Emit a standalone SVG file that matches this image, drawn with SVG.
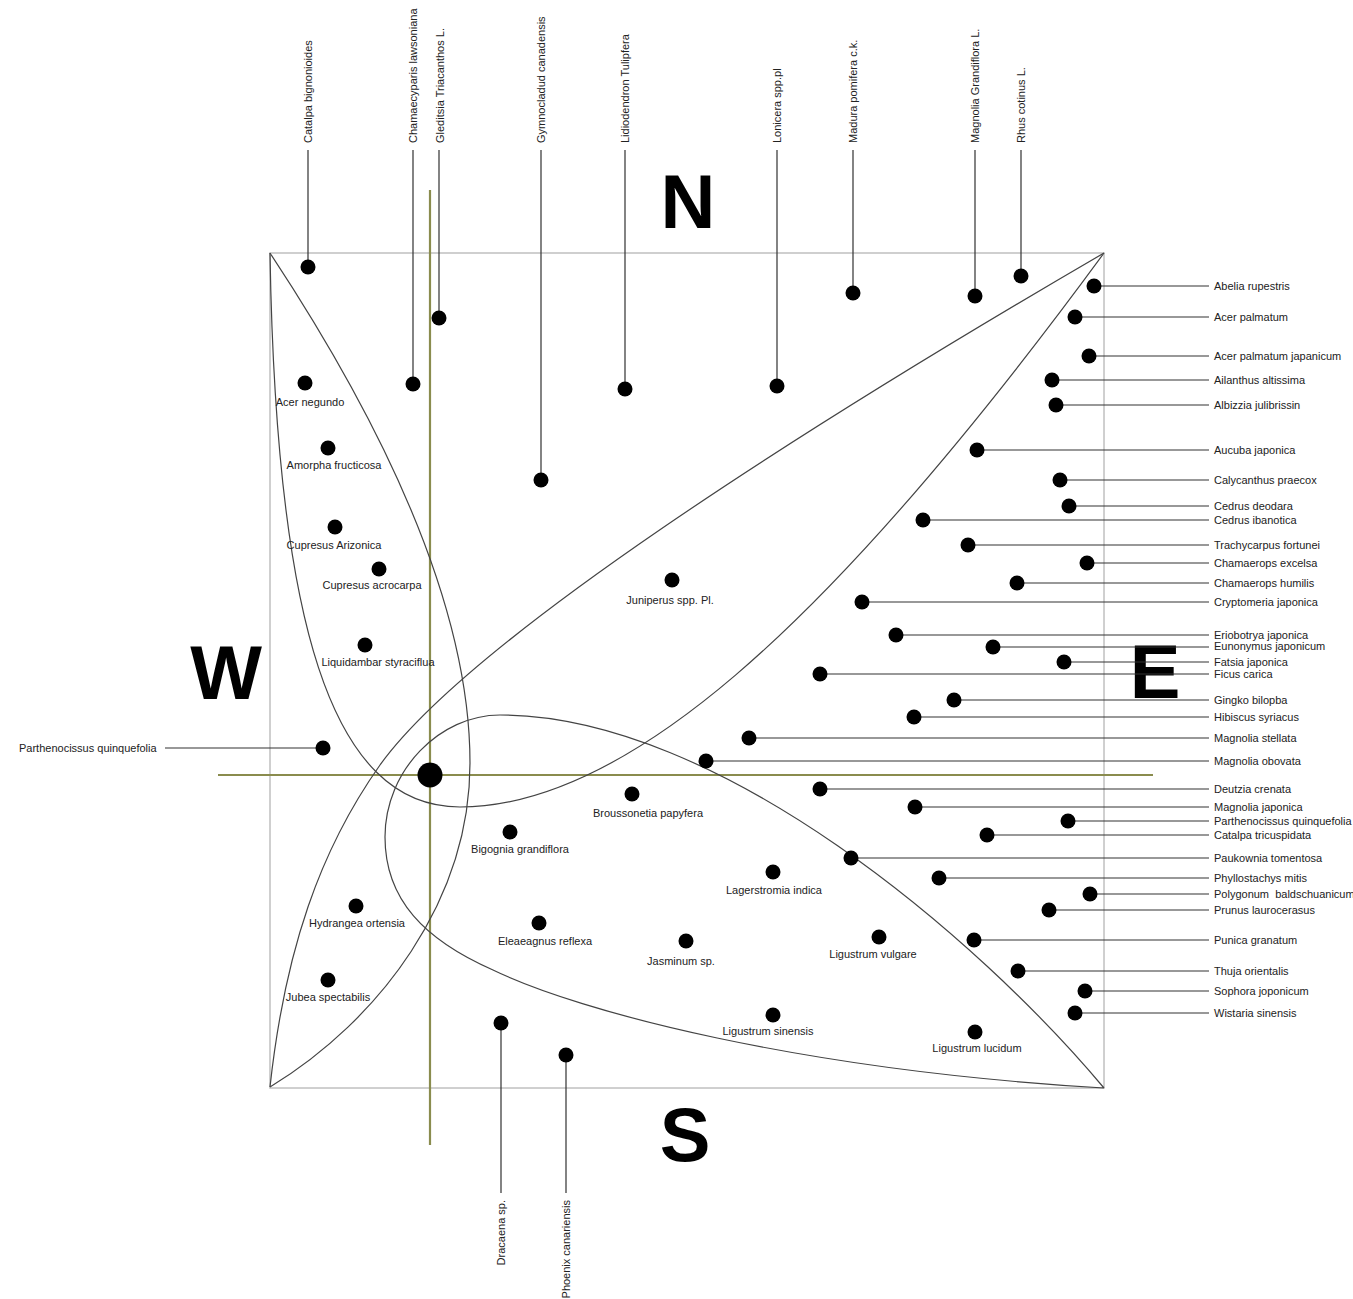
<svg xmlns="http://www.w3.org/2000/svg" width="1353" height="1299" viewBox="0 0 1353 1299">
<style>
.dot{fill:#000}
.lbl{font-family:"Liberation Sans",Arial,sans-serif;font-size:11px;fill:#222}
.c{text-anchor:middle}
.lead{stroke:#333;stroke-width:1.2;fill:none}
.curve{stroke:#444;stroke-width:1.2;fill:none}
.frame{stroke:#c0c0c0;stroke-width:1.5;fill:none}
.axis{stroke:#8a8c4e;stroke-width:2.2;fill:none}
.compass{font-family:"Liberation Sans",Arial,sans-serif;font-weight:bold;font-size:76px;text-anchor:middle;fill:#000}
</style>
<rect width="1353" height="1299" fill="#fff"/>
<g id="frame">
<rect class="frame" x="270" y="253" width="834" height="835"/>
</g>
<g id="axes">
<line class="axis" x1="430" y1="190" x2="430" y2="1145"/>
<line class="axis" x1="218" y1="775" x2="1153" y2="775"/>
</g>
<g id="regions">
<path class="curve" d="M270,253 C276,620 330,807 460,807 C620,807 820,640 1104,253"/>
<path class="curve" d="M270,253 C400,450 470,620 470,763 C470,900 380,1020 270,1087"/>
<path class="curve" d="M1104,253 C800,430 470,640 380,765 C320,850 285,950 270,1087"/>
<path class="curve" d="M1104,1088 C980,940 720,715 500,715 C440,715 385,770 385,837 C385,900 425,940 493,970 C580,1012 800,1070 1104,1088"/>
</g>
<g id="compass">
<text class="compass" x="688" y="228">N</text>
<text class="compass" x="226" y="699">W</text>
<text class="compass" x="1155" y="698">E</text>
<text class="compass" x="685" y="1161">S</text>
</g>
<g id="connectors">
<path class="lead" d="M308,150V270 M413,150V384 M439,150V318 M541,150V480 M625,150V389 M777,150V386 M853,150V293 M975,150V296 M1021,150V280"/>
<path class="lead" d="M501,1023V1193 M566,1055V1193"/>
<path class="lead" d="M165,748H323"/>
<path class="lead" d="M1094,286H1209 M1075,317H1209 M1089,356H1209 M1052,380H1209 M1056,405H1209 M977,450H1209 M1060,480H1209 M1069,506H1209 M923,520H1209 M968,545H1209 M1087,563H1209 M1017,583H1209 M862,602H1209 M896,635H1209 M993,647H1209 M1064,662H1209 M820,674H1209 M954,700H1209 M914,717H1209 M749,738H1209 M706,761H1209 M820,789H1209 M915,807H1209 M1068,821H1209 M987,835H1209 M851,858H1209 M939,878H1209 M1090,894H1209 M1049,910H1209 M974,940H1209 M1018,971H1209 M1085,991H1209 M1075,1013H1209"/>
</g>
<g id="center"><circle class="dot" cx="430" cy="775" r="12.5"/></g>
<g id="top-labels">
<g id="n-catalpa-bignonioides"><circle class="dot" cx="308" cy="267" r="7.5"/><text class="lbl" transform="translate(312,143) rotate(-90)">Catalpa bignonioides</text></g>
<g id="n-chamaecyparis"><circle class="dot" cx="413" cy="384" r="7.5"/><text class="lbl" transform="translate(417,143) rotate(-90)">Chamaecyparis lawsoniana</text></g>
<g id="n-gleditsia"><circle class="dot" cx="439" cy="318" r="7.5"/><text class="lbl" transform="translate(444,143) rotate(-90)">Gleditsia Triacanthos L.</text></g>
<g id="n-gymnocladud"><circle class="dot" cx="541" cy="480" r="7.5"/><text class="lbl" transform="translate(545,143) rotate(-90)">Gymnocladud canadensis</text></g>
<g id="n-lidiodendron"><circle class="dot" cx="625" cy="389" r="7.5"/><text class="lbl" transform="translate(629,143) rotate(-90)">Lidiodendron Tulipfera</text></g>
<g id="n-lonicera"><circle class="dot" cx="777" cy="386" r="7.5"/><text class="lbl" transform="translate(781,143) rotate(-90)">Lonicera spp.pl</text></g>
<g id="n-madura"><circle class="dot" cx="853" cy="293" r="7.5"/><text class="lbl" transform="translate(857,143) rotate(-90)">Madura pomifera c.k.</text></g>
<g id="n-magnolia-grandiflora"><circle class="dot" cx="975" cy="296" r="7.5"/><text class="lbl" transform="translate(979,143) rotate(-90)">Magnolia Grandiflora L.</text></g>
<g id="n-rhus"><circle class="dot" cx="1021" cy="276" r="7.5"/><text class="lbl" transform="translate(1025,143) rotate(-90)">Rhus cotinus L.</text></g>
</g>
<g id="bottom-labels">
<g id="n-dracaena"><circle class="dot" cx="501" cy="1023" r="7.5"/><text class="lbl" text-anchor="end" transform="translate(505,1200) rotate(-90)">Dracaena sp.</text></g>
<g id="n-phoenix"><circle class="dot" cx="566" cy="1055" r="7.5"/><text class="lbl" text-anchor="end" transform="translate(570,1200) rotate(-90)">Phoenix canariensis</text></g>
</g>
<g id="left-labels">
<g id="n-parthenocissus-w"><circle class="dot" cx="323" cy="748" r="7.5"/><text class="lbl" x="19" y="752">Parthenocissus quinquefolia</text></g>
</g>
<g id="inner">
<g id="n-acer-negundo"><circle class="dot" cx="305" cy="383" r="7.5"/><text class="lbl c" x="310" y="406">Acer negundo</text></g>
<g id="n-amorpha"><circle class="dot" cx="328" cy="448" r="7.5"/><text class="lbl c" x="334" y="469">Amorpha fructicosa</text></g>
<g id="n-cupresus-arizonica"><circle class="dot" cx="335" cy="527" r="7.5"/><text class="lbl c" x="334" y="549">Cupresus Arizonica</text></g>
<g id="n-cupresus-acrocarpa"><circle class="dot" cx="379" cy="569" r="7.5"/><text class="lbl c" x="372" y="589">Cupresus acrocarpa</text></g>
<g id="n-liquidambar"><circle class="dot" cx="365" cy="645" r="7.5"/><text class="lbl c" x="378" y="666">Liquidambar styraciflua</text></g>
<g id="n-juniperus"><circle class="dot" cx="672" cy="580" r="7.5"/><text class="lbl c" x="670" y="604">Juniperus spp. Pl.</text></g>
<g id="n-broussonetia"><circle class="dot" cx="632" cy="794" r="7.5"/><text class="lbl c" x="648" y="817">Broussonetia papyfera</text></g>
<g id="n-bigognia"><circle class="dot" cx="510" cy="832" r="7.5"/><text class="lbl c" x="520" y="853">Bigognia grandiflora</text></g>
<g id="n-hydrangea"><circle class="dot" cx="356" cy="906" r="7.5"/><text class="lbl c" x="357" y="927">Hydrangea ortensia</text></g>
<g id="n-jubea"><circle class="dot" cx="328" cy="980" r="7.5"/><text class="lbl c" x="328" y="1001">Jubea spectabilis</text></g>
<g id="n-eleaeagnus"><circle class="dot" cx="539" cy="923" r="7.5"/><text class="lbl c" x="545" y="945">Eleaeagnus reflexa</text></g>
<g id="n-jasminum"><circle class="dot" cx="686" cy="941" r="7.5"/><text class="lbl c" x="681" y="965">Jasminum sp.</text></g>
<g id="n-lagerstromia"><circle class="dot" cx="773" cy="872" r="7.5"/><text class="lbl c" x="774" y="894">Lagerstromia indica</text></g>
<g id="n-ligustrum-vulgare"><circle class="dot" cx="879" cy="937" r="7.5"/><text class="lbl c" x="873" y="958">Ligustrum vulgare</text></g>
<g id="n-ligustrum-sinensis"><circle class="dot" cx="773" cy="1015" r="7.5"/><text class="lbl c" x="768" y="1035">Ligustrum sinensis</text></g>
<g id="n-ligustrum-lucidum"><circle class="dot" cx="975" cy="1032" r="7.5"/><text class="lbl c" x="977" y="1052">Ligustrum lucidum</text></g>
</g>
<g id="right-labels">
<g id="n-abelia"><circle class="dot" cx="1094" cy="286" r="7.5"/><text class="lbl" x="1214" y="290">Abelia rupestris</text></g>
<g id="n-acer-palmatum"><circle class="dot" cx="1075" cy="317" r="7.5"/><text class="lbl" x="1214" y="321">Acer palmatum</text></g>
<g id="n-acer-palmatum-jap"><circle class="dot" cx="1089" cy="356" r="7.5"/><text class="lbl" x="1214" y="360">Acer palmatum japanicum</text></g>
<g id="n-ailanthus"><circle class="dot" cx="1052" cy="380" r="7.5"/><text class="lbl" x="1214" y="384">Ailanthus altissima</text></g>
<g id="n-albizzia"><circle class="dot" cx="1056" cy="405" r="7.5"/><text class="lbl" x="1214" y="409">Albizzia julibrissin</text></g>
<g id="n-aucuba"><circle class="dot" cx="977" cy="450" r="7.5"/><text class="lbl" x="1214" y="454">Aucuba japonica</text></g>
<g id="n-calycanthus"><circle class="dot" cx="1060" cy="480" r="7.5"/><text class="lbl" x="1214" y="484">Calycanthus praecox</text></g>
<g id="n-cedrus-deodara"><circle class="dot" cx="1069" cy="506" r="7.5"/><text class="lbl" x="1214" y="510">Cedrus deodara</text></g>
<g id="n-cedrus-ibanotica"><circle class="dot" cx="923" cy="520" r="7.5"/><text class="lbl" x="1214" y="524">Cedrus ibanotica</text></g>
<g id="n-trachycarpus"><circle class="dot" cx="968" cy="545" r="7.5"/><text class="lbl" x="1214" y="549">Trachycarpus fortunei</text></g>
<g id="n-chamaerops-excelsa"><circle class="dot" cx="1087" cy="563" r="7.5"/><text class="lbl" x="1214" y="567">Chamaerops excelsa</text></g>
<g id="n-chamaerops-humilis"><circle class="dot" cx="1017" cy="583" r="7.5"/><text class="lbl" x="1214" y="587">Chamaerops humilis</text></g>
<g id="n-cryptomeria"><circle class="dot" cx="862" cy="602" r="7.5"/><text class="lbl" x="1214" y="606">Cryptomeria japonica</text></g>
<g id="n-eriobotrya"><circle class="dot" cx="896" cy="635" r="7.5"/><text class="lbl" x="1214" y="639">Eriobotrya japonica</text></g>
<g id="n-eunonymus"><circle class="dot" cx="993" cy="647" r="7.5"/><text class="lbl" x="1214" y="650">Eunonymus japonicum</text></g>
<g id="n-fatsia"><circle class="dot" cx="1064" cy="662" r="7.5"/><text class="lbl" x="1214" y="666">Fatsia japonica</text></g>
<g id="n-ficus"><circle class="dot" cx="820" cy="674" r="7.5"/><text class="lbl" x="1214" y="678">Ficus carica</text></g>
<g id="n-gingko"><circle class="dot" cx="954" cy="700" r="7.5"/><text class="lbl" x="1214" y="704">Gingko bilopba</text></g>
<g id="n-hibiscus"><circle class="dot" cx="914" cy="717" r="7.5"/><text class="lbl" x="1214" y="721">Hibiscus syriacus</text></g>
<g id="n-magnolia-stellata"><circle class="dot" cx="749" cy="738" r="7.5"/><text class="lbl" x="1214" y="742">Magnolia stellata</text></g>
<g id="n-magnolia-obovata"><circle class="dot" cx="706" cy="761" r="7.5"/><text class="lbl" x="1214" y="765">Magnolia obovata</text></g>
<g id="n-deutzia"><circle class="dot" cx="820" cy="789" r="7.5"/><text class="lbl" x="1214" y="793">Deutzia crenata</text></g>
<g id="n-magnolia-japonica"><circle class="dot" cx="915" cy="807" r="7.5"/><text class="lbl" x="1214" y="811">Magnolia japonica</text></g>
<g id="n-parthenocissus-e"><circle class="dot" cx="1068" cy="821" r="7.5"/><text class="lbl" x="1214" y="825">Parthenocissus quinquefolia</text></g>
<g id="n-catalpa-tricuspidata"><circle class="dot" cx="987" cy="835" r="7.5"/><text class="lbl" x="1214" y="839">Catalpa tricuspidata</text></g>
<g id="n-paukownia"><circle class="dot" cx="851" cy="858" r="7.5"/><text class="lbl" x="1214" y="862">Paukownia tomentosa</text></g>
<g id="n-phyllostachys"><circle class="dot" cx="939" cy="878" r="7.5"/><text class="lbl" x="1214" y="882">Phyllostachys mitis</text></g>
<g id="n-polygonum"><circle class="dot" cx="1090" cy="894" r="7.5"/><text class="lbl" x="1214" y="898" style="white-space:pre">Polygonum  baldschuanicum</text></g>
<g id="n-prunus"><circle class="dot" cx="1049" cy="910" r="7.5"/><text class="lbl" x="1214" y="914">Prunus laurocerasus</text></g>
<g id="n-punica"><circle class="dot" cx="974" cy="940" r="7.5"/><text class="lbl" x="1214" y="944">Punica granatum</text></g>
<g id="n-thuja"><circle class="dot" cx="1018" cy="971" r="7.5"/><text class="lbl" x="1214" y="975">Thuja orientalis</text></g>
<g id="n-sophora"><circle class="dot" cx="1085" cy="991" r="7.5"/><text class="lbl" x="1214" y="995">Sophora joponicum</text></g>
<g id="n-wistaria"><circle class="dot" cx="1075" cy="1013" r="7.5"/><text class="lbl" x="1214" y="1017">Wistaria sinensis</text></g>
</g>
</svg>
